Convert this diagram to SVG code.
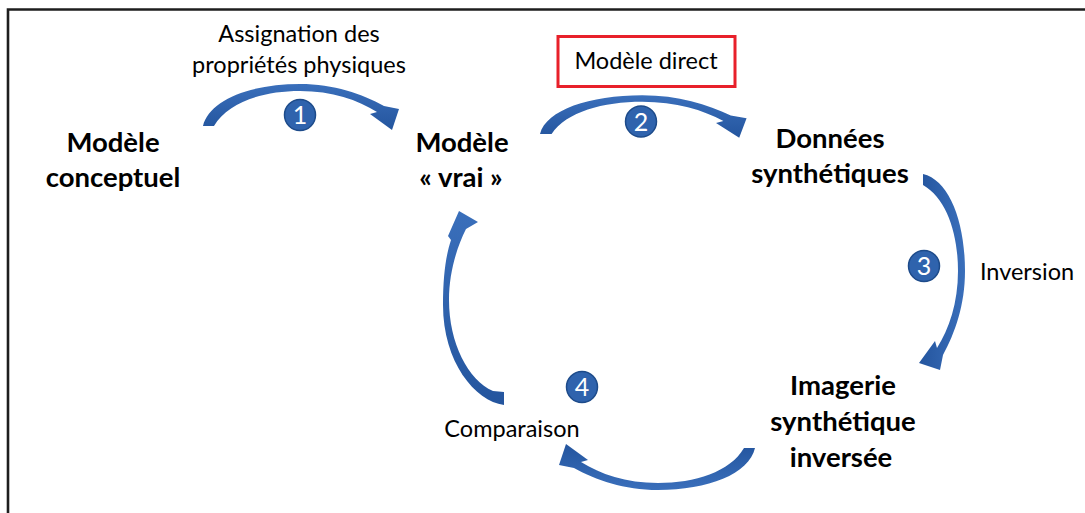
<svg xmlns="http://www.w3.org/2000/svg" width="1085" height="513" viewBox="0 0 1085 513">
<style>
.lbl{font-family:Lato,"Liberation Sans",sans-serif;font-weight:bold;font-size:27.5px;fill:#000;text-anchor:middle}
.txt{font-family:Lato,"Liberation Sans",sans-serif;font-size:23.5px;fill:#000;text-anchor:middle}
.arr{fill:url(#ag)}
.num circle{fill:#2f63ad;stroke:#1d4b8a;stroke-width:1.5}
.num text{font-family:Lato,"Liberation Sans",sans-serif;font-size:25px;fill:#fff;text-anchor:middle}
</style>
<defs>
<linearGradient id="ag" x1="0" y1="0" x2="0" y2="1">
<stop offset="0" stop-color="#3a6fbb"/>
<stop offset="1" stop-color="#24559e"/>
</linearGradient>
<path id="a1" d="M203,126 C209,100 250,84 300,84 C334,84 362,94 384,106 L399,109 L392,130 L370,114 L377,112 C358,100 332,91 300,91 C263,91 228,102 214,126 Z"/>
</defs>
<rect width="1085" height="513" fill="#fff"/>
<path d="M8,513 V9.5 H1085" fill="none" stroke="#1e1e1e" stroke-width="2.6"/>

<g id="connectors">
<use href="#a1" class="arr"/>
<use href="#a1" class="arr" transform="translate(540,134) scale(1.054,0.92) translate(-203,-126)"/>
<use href="#a1" class="arr" transform="translate(1049,-29) rotate(90)"/>
<use href="#a1" class="arr" transform="translate(958,574) rotate(180)"/>
<path class="arr" d="M504,405 C475,401 443,362 443,305 C443,275 446,255 451,240 L448,236 L459,211 L478,222 L466,229 C456,249 449,274 449,300 C449,343 468,380 493,391 L504,392 Z"/>
</g>

<g id="n-conceptuel"><text class="lbl" x="113" y="152">Modèle</text><text class="lbl" x="113" y="187">conceptuel</text></g>
<g id="n-vrai"><text class="lbl" x="462" y="152">Modèle</text><text class="lbl" x="461" y="187">« vrai »</text></g>
<g id="n-donnees"><text class="lbl" x="830" y="148">Données</text><text class="lbl" x="830" y="183">synthétiques</text></g>
<g id="n-imagerie"><text class="lbl" x="843" y="395">Imagerie</text><text class="lbl" x="843" y="431">synthétique</text><text class="lbl" x="841" y="467">inversée</text></g>

<g id="l-assignation"><text class="txt" x="299" y="42">Assignation des</text><text class="txt" x="299" y="73">propriétés physiques</text></g>
<g id="l-direct"><rect x="558" y="36.5" width="177" height="50" fill="none" stroke="#e8202a" stroke-width="3"/><text class="txt" x="646" y="69">Modèle direct</text></g>
<g id="l-inversion"><text class="txt" x="1027" y="280">Inversion</text></g>
<g id="l-comparaison"><text class="txt" x="512" y="437">Comparaison</text></g>

<g id="c1" class="num"><circle cx="300" cy="115" r="15.5"/><text x="300" y="124">1</text></g>
<g id="c2" class="num"><circle cx="641" cy="121.5" r="15.5"/><text x="641" y="130.5">2</text></g>
<g id="c3" class="num"><circle cx="924" cy="266" r="15.5"/><text x="924" y="275">3</text></g>
<g id="c4" class="num"><circle cx="582" cy="387" r="15.5"/><text x="582" y="396">4</text></g>
</svg>
